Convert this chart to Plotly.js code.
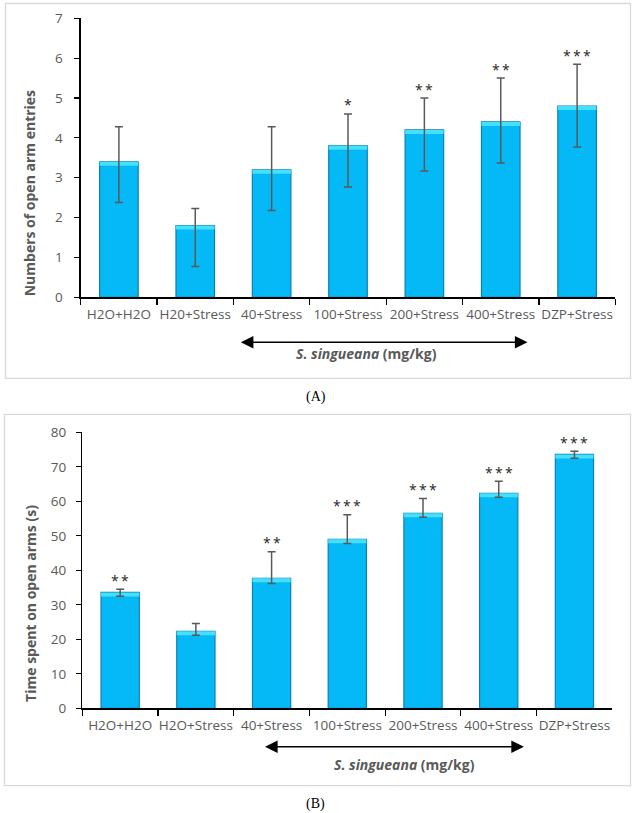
<!DOCTYPE html>
<html>
<head>
<meta charset="utf-8">
<script src="https://cdn.plot.ly/plotly-3.0.1.min.js"></script>
<style>html,body{margin:0;padding:0;background:#fff;}#chart{width:635px;height:813px;}</style>
</head>
<body>
<div id="chart"></div>
<script>
// ---------- DATA ----------
const catsA = ["H2O+H2O","H20+Stress","40+Stress","100+Stress","200+Stress","400+Stress","DZP+Stress"];
const entries = [3.4, 1.8, 3.2, 3.8, 4.2, 4.4, 4.8];
const entriesErrPlus = [0.88, 0.43, 1.08, 0.80, 0.80, 1.10, 1.05];
const entriesErrMinus = [1.02, 1.03, 1.02, 1.03, 1.03, 1.03, 1.03];
const entriesStars = ["", "", "", "*", "**", "**", "***"];

const catsB = ["H2O+H2O","H2O+Stress","40+Stress","100+Stress","200+Stress","400+Stress","DZP+Stress"];
const timeOpen = [33.6, 22.3, 37.7, 49.0, 56.5, 62.3, 73.6];
const timeErrPlus = [0.9, 2.3, 7.7, 7.1, 4.3, 3.5, 0.9];
const timeErrMinus = [1.1, 1.1, 1.5, 1.2, 1.1, 1.1, 1.1];
const timeStars = ["**", "", "**", "***", "***", "***", "***"];

const yTitleA = "Numbers of open arm entries";
const yTitleB = "Time spent on open arms (s)";
const groupLabel = "<b><i>S. singueana</i> (mg/kg)</b>";
const panelA = "(A)";
const panelB = "(B)";

// ---------- LAYOUT HELPERS ----------
const W = 635, H = 813;
const px = v => v / W;
const py = v => 1 - v / H;
const FONT = "Open Sans, Noto Sans, sans-serif";
const GREY = "#595959";
const BAR = "#05b9f6", BAR_EDGE = "#0b7fae", BAR_HI = "#44e0fd";

const rangeA = [0, 7], rangeB = [0, 80];
const plotHA = 297.3 - 18.3, plotHB = 708.3 - 432.3;
const hiA = (rangeA[1] - rangeA[0]) * 4 / plotHA;
const hiB = (rangeB[1] - rangeB[0]) * 4 / plotHB;

function barTraces(cats, vals, plus, minus, xa, ya, hi) {
  return [
    {type: "bar", x: cats, y: vals, xaxis: xa, yaxis: ya,
     marker: {color: BAR, line: {color: BAR_EDGE, width: 1.2}}, hoverinfo: "x+y"},
    {type: "bar", x: cats, y: vals.map(() => hi), base: vals.map(v => v - hi), xaxis: xa, yaxis: ya,
     marker: {color: BAR_HI, line: {color: "rgba(0,0,0,0)", width: 0}}, hoverinfo: "skip"},
    {type: "scatter", mode: "markers", x: cats, y: vals, xaxis: xa, yaxis: ya,
     marker: {size: 1, color: "rgba(0,0,0,0)"}, hoverinfo: "skip",
     error_y: {type: "data", symmetric: false, array: plus, arrayminus: minus,
               color: GREY, thickness: 1.5, width: 4}}
  ];
}

const data = [
  ...barTraces(catsA, entries, entriesErrPlus, entriesErrMinus, "x", "y", hiA),
  ...barTraces(catsB, timeOpen, timeErrPlus, timeErrMinus, "x2", "y2", hiB)
];

function xAxis(domain, anchor) {
  return {domain: domain, anchor: anchor, type: "category", showline: true, linecolor: "#000", linewidth: 1.3,
          ticks: "outside", tickson: "boundaries", ticklen: 6, tickcolor: "#000", tickwidth: 1.2,
          tickangle: 0, ticklabelstandoff: 4, tickfont: {family: FONT, size: 13.5, color: GREY},
          showgrid: false, zeroline: false, fixedrange: true};
}
function yAxis(domain, anchor, range, dtick, standoff) {
  return {domain: domain, anchor: anchor, range: range, dtick: dtick, showline: true, linecolor: "#000",
          linewidth: 1.3, ticks: "outside", ticklen: 5, tickcolor: "#000", tickwidth: 1.2,
          ticklabelstandoff: standoff, tickfont: {family: FONT, size: 13.5, color: GREY},
          showgrid: false, zeroline: false, fixedrange: true};
}

function starAnns(cats, vals, plus, stars, xr, yr) {
  const out = [];
  stars.forEach((s, i) => {
    if (!s) return;
    out.push({xref: xr, yref: yr, x: cats[i], y: vals[i] + plus[i], text: s.split("").join("\u2009"),
              showarrow: false, yanchor: "middle", yshift: 9,
              font: {family: FONT, size: 14, color: "#262626"}});
  });
  return out;
}

const annotations = [
  ...starAnns(catsA, entries, entriesErrPlus, entriesStars, "x", "y"),
  ...starAnns(catsB, timeOpen, timeErrPlus, timeStars, "x2", "y2"),
  {xref: "paper", yref: "paper", x: px(29.3), y: py(193), text: "<b>" + yTitleA + "</b>", textangle: -90,
   showarrow: false, xanchor: "center", yanchor: "middle", font: {family: FONT, size: 14, color: GREY}},
  {xref: "paper", yref: "paper", x: px(30.4), y: py(603.5), text: "<b>" + yTitleB + "</b>", textangle: -90,
   showarrow: false, xanchor: "center", yanchor: "middle", font: {family: FONT, size: 14, color: GREY}},
  {xref: "paper", yref: "paper", x: px(527.5), y: py(342.3), ax: -(527.5 - 239.3), ay: 0,
   axref: "pixel", ayref: "pixel", text: "", showarrow: true, arrowside: "end+start",
   arrowhead: 2, arrowsize: 1.8, arrowwidth: 1.4, arrowcolor: "#000"},
  {xref: "paper", yref: "paper", x: px(523.9), y: py(746.7), ax: -(523.9 - 263.5), ay: 0,
   axref: "pixel", ayref: "pixel", text: "", showarrow: true, arrowside: "end+start",
   arrowhead: 2, arrowsize: 1.8, arrowwidth: 1.4, arrowcolor: "#000"},
  {xref: "paper", yref: "paper", x: px(366.8), y: py(353.3), text: groupLabel, showarrow: false,
   xanchor: "center", yanchor: "middle", font: {family: FONT, size: 14, color: GREY}},
  {xref: "paper", yref: "paper", x: px(404.5), y: py(764.3), text: groupLabel, showarrow: false,
   xanchor: "center", yanchor: "middle", font: {family: FONT, size: 14, color: GREY}},
  {xref: "paper", yref: "paper", x: px(316), y: py(397.3), text: panelA, showarrow: false,
   xanchor: "center", yanchor: "middle", font: {family: "Liberation Serif, serif", size: 14, color: "#000"}},
  {xref: "paper", yref: "paper", x: px(315.7), y: py(804.3), text: panelB, showarrow: false,
   xanchor: "center", yanchor: "middle", font: {family: "Liberation Serif, serif", size: 14, color: "#000"}}
];

const shapes = [
  {type: "rect", xref: "paper", yref: "paper", x0: px(5.5), x1: px(630.5), y0: py(378.3), y1: py(3.5),
   line: {color: "#d9d9d9", width: 1.3}, layer: "below"},
  {type: "rect", xref: "paper", yref: "paper", x0: px(4.5), x1: px(630.5), y0: py(785.7), y1: py(414.3),
   line: {color: "#d9d9d9", width: 1.3}, layer: "below"}
];

const layout = {
  width: W, height: H, margin: {l: 0, r: 0, t: 0, b: 0},
  paper_bgcolor: "#fff", plot_bgcolor: "rgba(0,0,0,0)",
  showlegend: false, barmode: "overlay", bargap: 0.495,
  font: {family: FONT, color: GREY},
  xaxis: xAxis([px(80.7), px(615.3)], "y"),
  yaxis: yAxis([py(297.3), py(18.3)], "x", rangeA, 1, 9),
  xaxis2: xAxis([px(82.3), px(612.3)], "y2"),
  yaxis2: yAxis([py(708.3), py(432.3)], "x2", rangeB, 10, 7),
  annotations: annotations,
  shapes: shapes
};

Plotly.newPlot("chart", data, layout, {displayModeBar: false, staticPlot: true});
</script>
</body>
</html>
